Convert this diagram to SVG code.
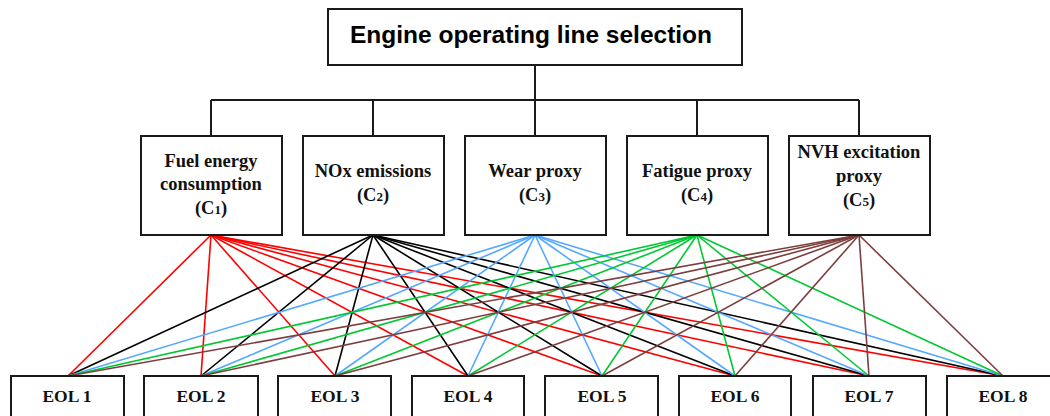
<svg xmlns="http://www.w3.org/2000/svg" width="1050" height="416" viewBox="0 0 1050 416">
  <style>
    .box { fill: #fff; stroke: #1a1a1a; stroke-width: 2; }
    .tree { fill: none; stroke: #1a1a1a; stroke-width: 2; }
    .title { font-family: "Liberation Sans", Arial, sans-serif; font-weight: bold; font-size: 24.5px; fill: #000; text-anchor: middle; }
    .lbl { font-family: "Liberation Serif", "Times New Roman", serif; font-weight: bold; font-size: 18.5px; fill: #111; text-anchor: middle; }
    .eol { font-size: 17.5px; }
    .sub { font-size: 13px; }
    .c1 line { stroke: #ff0000; }
    .c2 line { stroke: #000000; }
    .c3 line { stroke: #55a8ff; }
    .c4 line { stroke: #00c832; }
    .c5 line { stroke: #7d3e3e; }
    #connectors line { stroke-width: 1.6; }
  </style>

  <!-- hierarchy tree lines -->
  <g id="tree" class="tree">
    <line x1="535" y1="65" x2="535" y2="100"/>
    <line x1="211" y1="100" x2="859" y2="100"/>
    <line x1="211" y1="100" x2="211" y2="136"/>
    <line x1="373" y1="100" x2="373" y2="136"/>
    <line x1="535" y1="100" x2="535" y2="136"/>
    <line x1="697" y1="100" x2="697" y2="136"/>
    <line x1="859" y1="100" x2="859" y2="136"/>
  </g>

  <!-- criterion to alternative connectors -->
  <g id="connectors">
    <g class="c1">
      <line x1="211" y1="235" x2="68" y2="376"/>
      <line x1="211" y1="235" x2="201" y2="376"/>
      <line x1="211" y1="235" x2="335" y2="376"/>
      <line x1="211" y1="235" x2="468" y2="376"/>
      <line x1="211" y1="235" x2="602" y2="376"/>
      <line x1="211" y1="235" x2="735" y2="376"/>
      <line x1="211" y1="235" x2="869" y2="376"/>
      <line x1="211" y1="235" x2="1003" y2="376"/>
    </g>
    <g class="c2">
      <line x1="373" y1="235" x2="68" y2="376"/>
      <line x1="373" y1="235" x2="201" y2="376"/>
      <line x1="373" y1="235" x2="335" y2="376"/>
      <line x1="373" y1="235" x2="468" y2="376"/>
      <line x1="373" y1="235" x2="602" y2="376"/>
      <line x1="373" y1="235" x2="735" y2="376"/>
      <line x1="373" y1="235" x2="869" y2="376"/>
      <line x1="373" y1="235" x2="1003" y2="376"/>
    </g>
    <g class="c3">
      <line x1="535" y1="235" x2="68" y2="376"/>
      <line x1="535" y1="235" x2="201" y2="376"/>
      <line x1="535" y1="235" x2="335" y2="376"/>
      <line x1="535" y1="235" x2="468" y2="376"/>
      <line x1="535" y1="235" x2="602" y2="376"/>
      <line x1="535" y1="235" x2="735" y2="376"/>
      <line x1="535" y1="235" x2="869" y2="376"/>
      <line x1="535" y1="235" x2="1003" y2="376"/>
    </g>
    <g class="c4">
      <line x1="697" y1="235" x2="68" y2="376"/>
      <line x1="697" y1="235" x2="201" y2="376"/>
      <line x1="697" y1="235" x2="335" y2="376"/>
      <line x1="697" y1="235" x2="468" y2="376"/>
      <line x1="697" y1="235" x2="602" y2="376"/>
      <line x1="697" y1="235" x2="735" y2="376"/>
      <line x1="697" y1="235" x2="869" y2="376"/>
      <line x1="697" y1="235" x2="1003" y2="376"/>
    </g>
    <g class="c5">
      <line x1="859" y1="235" x2="68" y2="376"/>
      <line x1="859" y1="235" x2="201" y2="376"/>
      <line x1="859" y1="235" x2="335" y2="376"/>
      <line x1="859" y1="235" x2="468" y2="376"/>
      <line x1="859" y1="235" x2="602" y2="376"/>
      <line x1="859" y1="235" x2="735" y2="376"/>
      <line x1="859" y1="235" x2="869" y2="376"/>
      <line x1="859" y1="235" x2="1003" y2="376"/>
    </g>
  </g>

  <!-- goal -->
  <g id="goal">
    <rect class="box" x="328" y="9" width="414" height="56"/>
    <text class="title" x="531" y="43">Engine operating line selection</text>
  </g>

  <!-- criteria -->
  <g id="c1">
    <rect class="box" x="141" y="136" width="141" height="99"/>
    <text class="lbl" x="211" y="167">Fuel energy</text>
    <text class="lbl" x="211" y="190">consumption</text>
    <text class="lbl" x="211" y="214">(C<tspan class="sub">1</tspan>)</text>
  </g>
  <g id="c2">
    <rect class="box" x="303" y="136" width="141" height="99"/>
    <text class="lbl" x="373" y="177">NOx emissions</text>
    <text class="lbl" x="373" y="201">(C<tspan class="sub">2</tspan>)</text>
  </g>
  <g id="c3">
    <rect class="box" x="465" y="136" width="141" height="99"/>
    <text class="lbl" x="535" y="177">Wear proxy</text>
    <text class="lbl" x="535" y="201">(C<tspan class="sub">3</tspan>)</text>
  </g>
  <g id="c4">
    <rect class="box" x="627" y="136" width="141" height="99"/>
    <text class="lbl" x="697" y="177">Fatigue proxy</text>
    <text class="lbl" x="697" y="201">(C<tspan class="sub">4</tspan>)</text>
  </g>
  <g id="c5">
    <rect class="box" x="789" y="136" width="141" height="99"/>
    <text class="lbl" x="859" y="158">NVH excitation</text>
    <text class="lbl" x="859" y="182">proxy</text>
    <text class="lbl" x="859" y="206">(C<tspan class="sub">5</tspan>)</text>
  </g>

  <!-- alternatives -->
  <g id="eol1"><rect class="box" x="11" y="376" width="113" height="50"/><text class="lbl eol" x="67" y="402">EOL 1</text></g>
  <g id="eol2"><rect class="box" x="144" y="376" width="114" height="50"/><text class="lbl eol" x="201" y="402">EOL 2</text></g>
  <g id="eol3"><rect class="box" x="278" y="376" width="113" height="50"/><text class="lbl eol" x="335" y="402">EOL 3</text></g>
  <g id="eol4"><rect class="box" x="412" y="376" width="112" height="50"/><text class="lbl eol" x="468" y="402">EOL 4</text></g>
  <g id="eol5"><rect class="box" x="545" y="376" width="113" height="50"/><text class="lbl eol" x="602" y="402">EOL 5</text></g>
  <g id="eol6"><rect class="box" x="679" y="376" width="112" height="50"/><text class="lbl eol" x="735" y="402">EOL 6</text></g>
  <g id="eol7"><rect class="box" x="813" y="376" width="113" height="50"/><text class="lbl eol" x="869" y="402">EOL 7</text></g>
  <g id="eol8"><rect class="box" x="947" y="376" width="113" height="50"/><text class="lbl eol" x="1003" y="402">EOL 8</text></g>
</svg>
